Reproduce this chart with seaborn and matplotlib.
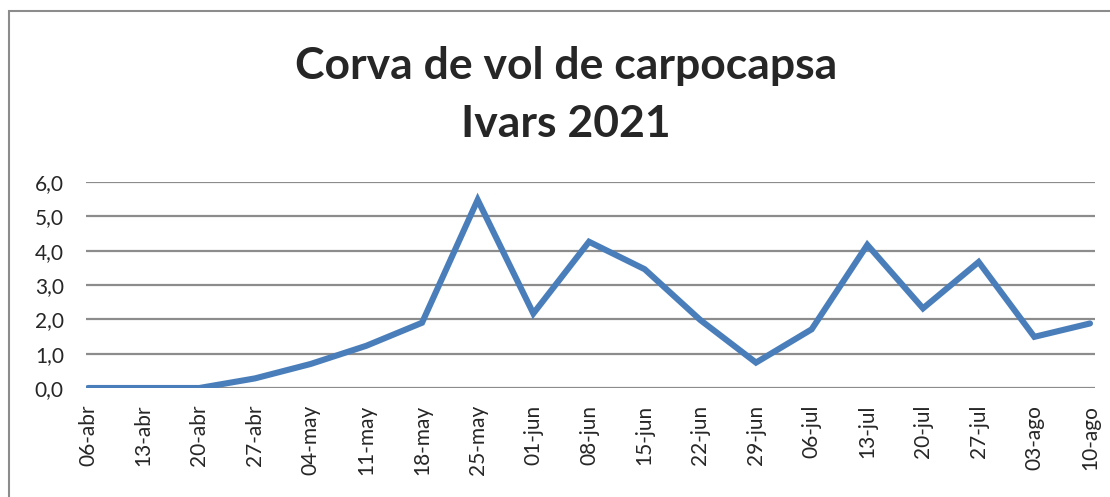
import matplotlib
matplotlib.use("Agg")
import matplotlib.pyplot as plt
import matplotlib.ticker as ticker
from matplotlib.patches import Rectangle
import pandas as pd
import seaborn as sns

dates = ["06-abr", "13-abr", "20-abr", "27-abr", "04-may", "11-may", "18-may",
         "25-may", "01-jun", "08-jun", "15-jun", "22-jun", "29-jun", "06-jul",
         "13-jul", "20-jul", "27-jul", "03-ago", "10-ago"]
captures = [0.0, 0.0, 0.0, 0.28, 0.7, 1.23, 1.9,
            5.48, 2.17, 4.26, 3.46, 1.98, 0.74, 1.71,
            4.17, 2.32, 3.67, 1.49, 1.88]

df = pd.DataFrame({"Data": dates, "Captures": captures})

sns.set_style("white")
plt.rcParams['font.family'] = ['Lato', 'DejaVu Sans']

fig = plt.figure(figsize=(11.1, 4.97), dpi=100)
W, H = 1110, 497
ax = fig.add_axes([86 / W, 109 / H, (1095 - 86) / W, (388 - 182) / H])

sns.lineplot(x="Data", y="Captures", data=df, ax=ax, sort=False,
             color="#4A7EBB", linewidth=4.4, solid_capstyle="round",
             solid_joinstyle="miter")

ax.set_ylim(0, 6)
ax.set_xlim(-0.036, 18.09)
ax.yaxis.set_major_locator(ticker.MultipleLocator(1))
ax.yaxis.set_major_formatter(ticker.FuncFormatter(lambda v, p: f"{v:.1f}".replace(".", ",")))
ax.grid(axis="y", color="#8c8c8c", linewidth=1.6)
ax.set_axisbelow(True)
for s in ax.spines.values():
    s.set_visible(False)

ax.set_xticks(range(len(dates)))
ax.set_xticklabels(dates, rotation=90, fontsize=15, va="top", ha="center")
ax.tick_params(axis="y", labelsize=15, length=0, pad=16)
ax.tick_params(axis="x", length=0, pad=12)
ax.set_xlabel("")
ax.set_ylabel("")

fig.text(566 / W, 1 - 66 / H, "Corva de vol de carpocapsa", ha="center", va="center",
         fontsize=32, fontweight="bold")
fig.text(566 / W, 1 - 124 / H, "Ivars 2021", ha="center", va="center",
         fontsize=32, fontweight="bold")

# frame of the chart area (partly cut off at right and bottom)
fig.patches.append(Rectangle((9 / W, -0.1), 1.2, 1 - 11 / H + 0.1, transform=fig.transFigure,
                             fill=False, edgecolor="#8c8c8c", linewidth=1.5))

fig.savefig("out.png", dpi=100)
